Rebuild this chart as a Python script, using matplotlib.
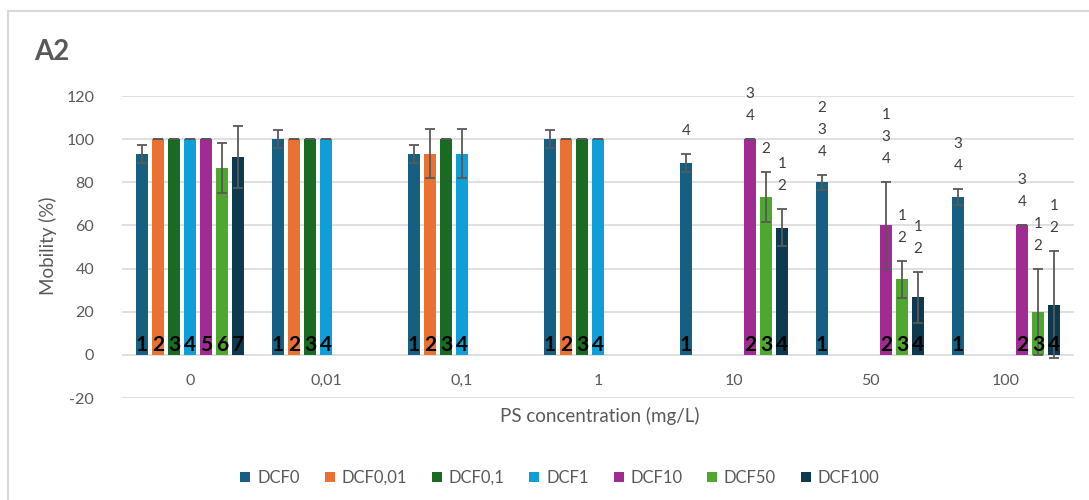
import numpy as np
import matplotlib
matplotlib.use("Agg")
import matplotlib.pyplot as plt
from matplotlib.lines import Line2D

nan = np.nan
categories = ["0", "0,01", "0,1", "1", "10", "50", "100"]
series = ["DCF0", "DCF0,01", "DCF0,1", "DCF1", "DCF10", "DCF50", "DCF100"]
colors = ["#156082", "#E97132", "#196B24", "#0F9ED5", "#A02B93", "#4EA72E", "#0D3A4E"]

dcf0 = [93.3, 100, 93.3, 100, 88.9, 80.0, 73.3]
dcf0_err = [4.2, 4.2, 4.2, 4.2, 4.2, 3.6, 3.6]
dcf0_01 = [100, 100, 93.3, 100, nan, nan, nan]
dcf0_01_err = [0, 0, 11.5, 0, nan, nan, nan]
dcf0_1 = [100, 100, 100, 100, nan, nan, nan]
dcf0_1_err = [0, 0, 0, 0, nan, nan, nan]
dcf1 = [100, 100, 93.3, 100, nan, nan, nan]
dcf1_err = [0, 0, 11.5, 0, nan, nan, nan]
dcf10 = [100, nan, nan, nan, 100, 60, 60]
dcf10_err = [0, nan, nan, nan, 0, 20, 0]
dcf50 = [86.7, nan, nan, nan, 73.3, 35.0, 20.0]
dcf50_err = [11.5, nan, nan, nan, 11.5, 8.7, 20.0]
dcf100 = [91.7, nan, nan, nan, 58.9, 26.7, 23.3]
dcf100_err = [14.4, nan, nan, nan, 8.5, 11.7, 24.8]

values = [dcf0, dcf0_01, dcf0_1, dcf1, dcf10, dcf50, dcf100]
errors = [dcf0_err, dcf0_01_err, dcf0_1_err, dcf1_err, dcf10_err, dcf50_err, dcf100_err]

# numbers written inside the bars (bottom)
inner_dcf0 = ["1", "1", "1", "1", "1", "1", "1"]
inner_dcf0_01 = ["2", "2", "2", "2", "", "", ""]
inner_dcf0_1 = ["3", "3", "3", "3", "", "", ""]
inner_dcf1 = ["4", "4", "4", "4", "", "", ""]
inner_dcf10 = ["5", "", "", "", "2", "2", "2"]
inner_dcf50 = ["6", "", "", "", "3", "3", "3"]
inner_dcf100 = ["7", "", "", "", "4", "4", "4"]
inner_labels = [inner_dcf0, inner_dcf0_01, inner_dcf0_1, inner_dcf1,
                inner_dcf10, inner_dcf50, inner_dcf100]

# significance labels above the bars (lines from top to bottom)
top_dcf0 = ["", "", "", "", "4", "2\n3\n4", "3\n4"]
top_dcf10 = ["", "", "", "", "3\n4", "1\n3\n4", "3\n4"]
top_dcf50 = ["", "", "", "", "2", "1\n2", "1\n2"]
top_dcf100 = ["", "", "", "", "1\n2", "1\n2", "1\n2"]
top_labels = [top_dcf0, [""] * 7, [""] * 7, [""] * 7, top_dcf10, top_dcf50, top_dcf100]

yticks = [-20, 0, 20, 40, 60, 80, 100, 120]

FONT = "Lato"
GREY = "#595959"
plt.rcParams["font.family"] = [FONT, "DejaVu Sans"]

W, H = 1089, 500
fig = plt.figure(figsize=(W / 100, H / 100), dpi=100)
ax = fig.add_axes([122 / W, 1 - 398 / H, (1074 - 122) / W, (398 - 96) / H])

n = len(series)
slot = 16 / 136
bw = 12.5 / 136
x = np.arange(len(categories))

for j in range(n):
    pos = x + (j - 3) * slot
    vals = np.array(values[j], dtype=float)
    errs = np.array(errors[j], dtype=float)
    ax.bar(pos, vals, width=bw, color=colors[j], label=series[j], zorder=2)
    ax.errorbar(pos, vals, yerr=errs, fmt="none", ecolor=GREY, elinewidth=1.3,
                capsize=3.6, capthick=1.3, zorder=3)
    for i in range(len(categories)):
        if np.isnan(vals[i]):
            continue
        lab = inner_labels[j][i]
        if lab:
            ax.annotate(lab, (pos[i], 0), xytext=(0, 3.5), textcoords="offset pixels",
                        ha="center", va="baseline", fontsize=15, fontweight="bold",
                        color="black", zorder=4)
        tl = top_labels[j][i]
        if tl:
            lines = tl.split("\n")
            topv = vals[i] + (0 if np.isnan(errs[i]) else errs[i])
            for k, line in enumerate(reversed(lines)):
                ax.annotate(line, (pos[i], topv), xytext=(0, 23 + 22 * k),
                            textcoords="offset pixels", ha="center", va="center",
                            fontsize=11, color="#404040", zorder=4)

ax.set_xlim(-0.5, len(categories) - 0.5)
ax.set_ylim(-20, 120)
ax.set_yticks(yticks)
ax.set_yticklabels([str(t) for t in yticks])
ax.set_xticks(x)
ax.set_xticklabels(categories)
ax.spines["bottom"].set_position(("data", 0))
ax.tick_params(axis="both", length=0, labelsize=11.5, labelcolor=GREY)
ax.tick_params(axis="y", pad=20)
ax.tick_params(axis="x", pad=14)
for s in ax.spines.values():
    s.set_visible(False)
ax.yaxis.grid(True, color="#d9d9d9", linewidth=1.2, zorder=0)
ax.set_axisbelow(True)

fig.text(600 / W, 1 - 416 / H, "PS concentration (mg/L)", ha="center", va="center",
         fontsize=13.5, color=GREY)
fig.text(48 / W, 1 - 246 / H, "Mobility (%)", ha="center", va="center",
         rotation=90, fontsize=13.5, color=GREY)
fig.text(34 / W, 1 - 52 / H, "A2", ha="left", va="center", fontsize=20,
         fontweight="bold", color=GREY)

leg = fig.legend(loc="center", bbox_to_anchor=(560 / W, 1 - 478 / H), ncol=7,
                 frameon=False, fontsize=12, handlelength=0.6, handleheight=0.6,
                 handletextpad=0.4, columnspacing=1.5, labelcolor=GREY)

# chart-area frame (left & top edges visible)
fig.add_artist(Line2D([8 / W, 8 / W], [1 - 11 / H, 0], transform=fig.transFigure,
                      color="#d9d9d9", linewidth=1.5))
fig.add_artist(Line2D([8 / W, 1], [1 - 11 / H, 1 - 11 / H], transform=fig.transFigure,
                      color="#d9d9d9", linewidth=1.5))

fig.savefig("out.png", dpi=100, facecolor="white")
